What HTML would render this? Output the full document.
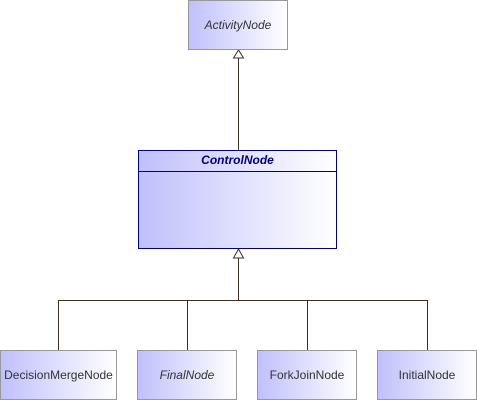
<!DOCTYPE html>
<html><head><style>
body{margin:0;width:477px;height:400px;background:#fff;position:relative;overflow:hidden;font-family:"Liberation Sans",sans-serif;}
.b{position:absolute;box-sizing:border-box;border:1px solid #999;background:linear-gradient(to right,#c0c0fc,#fff);font-size:12px;color:#333;display:flex;align-items:center;justify-content:center;}
</style></head><body>
<svg width="477" height="400" style="position:absolute;left:0;top:0">
<g stroke="#3c3020" stroke-width="1" fill="none">
<line x1="238.5" y1="58" x2="238.5" y2="150"/>
<polygon points="238.5,50 233.5,58 243.5,58" fill="#fff"/>
<line x1="238.5" y1="258" x2="238.5" y2="300.5"/>
<polygon points="238.5,249 233.5,258 243.5,258" fill="#fff"/>
<line x1="58.5" y1="300.5" x2="427.5" y2="300.5"/>
<line x1="58.5" y1="300" x2="58.5" y2="350"/>
<line x1="187.5" y1="300" x2="187.5" y2="350"/>
<line x1="307.5" y1="300" x2="307.5" y2="350"/>
<line x1="427.5" y1="300" x2="427.5" y2="350"/>
</g></svg>
<div class="b" style="left:188px;top:0;width:100px;height:50px;font-style:italic">ActivityNode</div>
<div class="b" style="left:138px;top:150px;width:199px;height:99px;border:1px solid #000080;align-items:flex-start;">
<div style="width:100%;height:20px;border-bottom:1px solid #000080;text-align:center;line-height:19px;font-weight:bold;font-style:italic;color:#000080;font-size:12px">ControlNode</div></div>
<div class="b" style="left:0;top:350px;width:117px;height:50px">DecisionMergeNode</div>
<div class="b" style="left:137px;top:350px;width:100px;height:50px;font-style:italic">FinalNode</div>
<div class="b" style="left:257px;top:350px;width:100px;height:50px">ForkJoinNode</div>
<div class="b" style="left:377px;top:350px;width:100px;height:50px">InitialNode</div>
</body></html>
